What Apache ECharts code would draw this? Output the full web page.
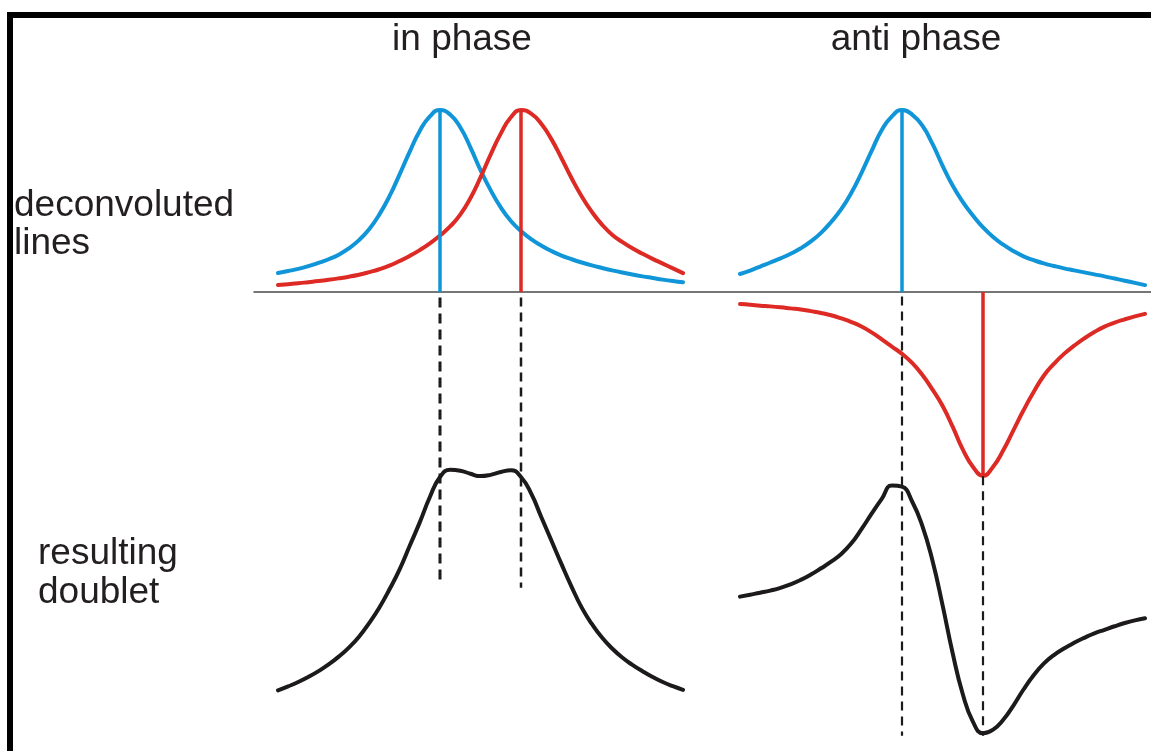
<!DOCTYPE html>
<html>
<head>
<meta charset="utf-8">
<script src="https://cdn.jsdelivr.net/npm/echarts@6/dist/echarts.min.js"></script>
<style>html,body{margin:0;padding:0;background:#fff}#c{width:1151px;height:751px}</style>
</head>
<body>
<div id="c"></div>
<script>
// ---- data (frequency axis 0..10, intensity units), sampled every 0.25 ----
const freq = [0,0.25,0.5,0.75,1,1.25,1.5,1.75,2,2.25,2.5,2.75,3,3.25,3.5,3.75,4,4.25,4.5,4.75,5,5.25,5.5,5.75,6,6.25,6.5,6.75,7,7.25,7.5,7.75,8,8.25,8.5,8.75,9,9.25,9.5,9.75,10];
const blueInPhase = [0.104,0.115,0.127,0.142,0.16,0.18,0.205,0.24,0.285,0.345,0.425,0.525,0.645,0.77,0.885,0.965,1.0,0.975,0.905,0.795,0.67,0.56,0.465,0.39,0.335,0.29,0.255,0.225,0.20,0.18,0.162,0.146,0.132,0.119,0.107,0.096,0.086,0.077,0.068,0.06,0.053];
const redInPhase  = [0.038,0.043,0.048,0.054,0.06,0.067,0.075,0.084,0.095,0.109,0.125,0.145,0.17,0.198,0.23,0.267,0.31,0.36,0.425,0.515,0.63,0.755,0.87,0.96,1.0,0.98,0.925,0.84,0.735,0.625,0.525,0.44,0.37,0.315,0.275,0.24,0.21,0.182,0.156,0.13,0.104];
const blueAnti    = [0.099,0.118,0.14,0.162,0.185,0.21,0.24,0.278,0.325,0.385,0.455,0.545,0.655,0.775,0.89,0.965,1.0,0.975,0.915,0.815,0.695,0.585,0.495,0.42,0.355,0.302,0.26,0.225,0.196,0.175,0.157,0.143,0.13,0.119,0.108,0.097,0.086,0.074,0.062,0.05,0.038];
const redAnti     = [-0.066,-0.07,-0.075,-0.079,-0.084,-0.09,-0.096,-0.105,-0.115,-0.128,-0.145,-0.165,-0.19,-0.222,-0.26,-0.3,-0.34,-0.39,-0.455,-0.535,-0.625,-0.74,-0.865,-0.96,-1.01,-0.96,-0.87,-0.76,-0.65,-0.55,-0.46,-0.395,-0.34,-0.295,-0.255,-0.22,-0.19,-0.168,-0.15,-0.134,-0.12];

const inPhaseDoublet   = [0.134,0.156,0.18,0.208,0.24,0.277,0.32,0.37,0.43,0.505,0.59,0.69,0.80,0.93,1.06,1.2,1.31,1.35,1.345,1.328,1.315,1.322,1.338,1.348,1.31,1.22,1.09,0.96,0.83,0.705,0.59,0.5,0.425,0.365,0.315,0.275,0.24,0.208,0.18,0.157,0.137];
const antiPhaseDoublet = [0.066,0.077,0.088,0.1,0.115,0.135,0.16,0.19,0.225,0.262,0.305,0.365,0.445,0.532,0.615,0.69,0.683,0.60,0.465,0.27,0.02,-0.25,-0.48,-0.635,-0.70,-0.68,-0.625,-0.545,-0.455,-0.375,-0.31,-0.262,-0.225,-0.193,-0.165,-0.14,-0.12,-0.1,-0.082,-0.067,-0.055];

const lineFreqs = [4, 6];          // resonance positions
const stickInPhase = [1, 1];       // heights of blue / red sticks (in phase)
const stickAnti = [1, -1.01];      // heights of blue / red sticks (anti phase)
// dashed guide extents [from, to] in doublet-panel intensity units
const guideInPhase = [[2.3, 0.73], [2.3, 0.70]];
const guideAnti = [[1.75, -0.714], [0.742, -0.714]];

const titles = ['in phase', 'anti phase'];
const rowLabels = [['deconvoluted', 'lines'], ['resulting', 'doublet']];

const BLUE = '#0f95d8', RED = '#dd2a24', BLACK = '#1c1a1a', TXT = '#231f20';
const FONT = '37px "Liberation Sans", Arial, sans-serif';

function pairs(xs, ys){ return xs.map((x,i)=>[x, ys[i]]); }
function curve(name, xi, yi, xs, ys, color, w){
  return {name, type:'line', xAxisIndex:xi, yAxisIndex:yi, data:pairs(xs,ys), smooth:0.5,
    showSymbol:false, symbol:'none', silent:true, clip:false,
    lineStyle:{color, width:w, cap:'round', join:'round'}};
}
function seg(name, xi, yi, x, y0, y1, color, w, type){
  return {name, type:'line', xAxisIndex:xi, yAxisIndex:yi, data:[[x,y0],[x,y1]],
    showSymbol:false, symbol:'none', silent:true, clip:false,
    lineStyle:{color, width:w, type: type || 'solid', dashOffset:0}};
}

const axisHidden = (gi, min, max) => ({gridIndex:gi, type:'value', min, max, show:false});

const chart = echarts.init(document.getElementById('c'), null, {renderer:'canvas'});
const option = {
  animation:false,
  backgroundColor:'#fff',
  grid:[
    {left:278, width:405, top:91.8, height:418.6},   // 0 in-phase lines
    {left:740, width:405, top:91.8, height:418.6},   // 1 anti-phase lines
    {left:278, width:405, top:297.4, height:455},    // 2 in-phase doublet
    {left:740, width:405, top:296.5, height:464.1},  // 3 anti-phase doublet
    {left:254, right:0, top:200, height:92}          // 4 baseline
  ],
  xAxis:[
    axisHidden(0,0,10), axisHidden(1,0,10), axisHidden(2,0,10), axisHidden(3,0,10),
    {gridIndex:4, type:'value', min:0, max:1, position:'bottom',
     axisLine:{show:true, lineStyle:{color:'#4a4a4a', width:1.5}},
     axisTick:{show:false}, axisLabel:{show:false}, splitLine:{show:false}}
  ],
  yAxis:[
    axisHidden(0,-1.2,1.1), axisHidden(1,-1.2,1.1), axisHidden(2,-0.2,2.3), axisHidden(3,-0.8,1.75),
    {gridIndex:4, type:'value', min:0, max:1, show:false}
  ],
  series:[
    curve('blue in phase',0,0,freq,blueInPhase,BLUE,4),
    curve('red in phase',0,0,freq,redInPhase,RED,4),
    seg('blue stick',0,0,lineFreqs[0],0,stickInPhase[0],BLUE,3.5),
    seg('red stick',0,0,lineFreqs[1],0,stickInPhase[1],RED,3.5),
    curve('blue anti',1,1,freq,blueAnti,BLUE,4),
    curve('red anti',1,1,freq,redAnti,RED,4),
    seg('blue stick anti',1,1,lineFreqs[0],0,stickAnti[0],BLUE,3.5),
    seg('red stick anti',1,1,lineFreqs[1],0,stickAnti[1],RED,3.5),
    seg('guide 1',2,2,lineFreqs[0],guideInPhase[0][0],guideInPhase[0][1],BLACK,3,[10,6]),
    seg('guide 2',2,2,lineFreqs[1],guideInPhase[1][0],guideInPhase[1][1],BLACK,2.5,[9,6]),
    curve('in phase doublet',2,2,freq,inPhaseDoublet,BLACK,4),
    seg('guide 3',3,3,lineFreqs[0],guideAnti[0][0],guideAnti[0][1],BLACK,2.2,[9,6]),
    seg('guide 4',3,3,lineFreqs[1],guideAnti[1][0],guideAnti[1][1],BLACK,2.2,[9,6]),
    curve('anti phase doublet',3,3,freq,antiPhaseDoublet,BLACK,4)
  ],
  graphic:[
    {type:'rect', shape:{x:10, y:15, width:1400, height:1000}, style:{fill:'none', stroke:'#000', lineWidth:6}, silent:true},
    {type:'text', x:462, y:40, style:{text:titles[0], font:FONT, fill:TXT, textAlign:'center', textVerticalAlign:'middle'}},
    {type:'text', x:916, y:40, style:{text:titles[1], font:FONT, fill:TXT, textAlign:'center', textVerticalAlign:'middle'}},
    {type:'text', x:14, y:206, style:{text:rowLabels[0][0], font:FONT, fill:TXT, textAlign:'left', textVerticalAlign:'middle'}},
    {type:'text', x:14, y:244, style:{text:rowLabels[0][1], font:FONT, fill:TXT, textAlign:'left', textVerticalAlign:'middle'}},
    {type:'text', x:38, y:554, style:{text:rowLabels[1][0], font:FONT, fill:TXT, textAlign:'left', textVerticalAlign:'middle'}},
    {type:'text', x:38, y:593, style:{text:rowLabels[1][1], font:FONT, fill:TXT, textAlign:'left', textVerticalAlign:'middle'}}
  ]
};
chart.setOption(option);
</script>
</body>
</html>
